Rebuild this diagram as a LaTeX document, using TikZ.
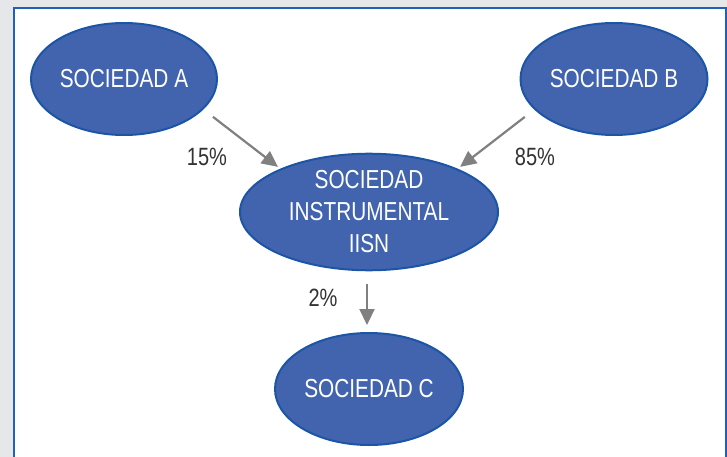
\documentclass[tikz,border=0pt]{standalone}
\usepackage{fontspec}
\setmainfont{Liberation Sans}[FakeStretch=0.8]
\usetikzlibrary{shapes.geometric,arrows.meta}
\definecolor{bgGrey}{HTML}{E6E7E8}
\definecolor{frameBlue}{HTML}{1F5FBE}
\definecolor{ellFill}{HTML}{4264AE}
\definecolor{ellLine}{HTML}{1C55A6}
\definecolor{arrGrey}{HTML}{808080}
\definecolor{txtGrey}{HTML}{333333}
\begin{document}
\begin{tikzpicture}[x=1pt,y=-1pt,
  soc/.style={ellipse,draw=ellLine,line width=2pt,fill=ellFill,text=white,
    inner sep=0pt,font=\fontsize{26}{32}\selectfont,align=center},
  link/.style={draw=arrGrey,line width=2.2pt,-{Triangle[length=16pt,width=15pt]}},
  pct/.style={text=txtGrey,font=\fontsize{25}{28}\selectfont,inner sep=0pt}]
\useasboundingbox (0,0) rectangle (727,457);
\fill[bgGrey] (0,0) rectangle (727,457);
\fill[white] (14,8) rectangle (726,470);
\draw[frameBlue,line width=2.5pt] (14,470) -- (14,8) -- (726,8) -- (726,470);
\node[soc,minimum width=186pt,minimum height=112pt] (A) at (124,79) {SOCIEDAD A};
\node[soc,minimum width=187pt,minimum height=112pt] (B) at (614,79) {SOCIEDAD B};
\node[soc,minimum width=258pt,minimum height=111pt] (M) at (369,212) {SOCIEDAD\\INSTRUMENTAL\\IISN};
\node[soc,minimum width=188pt,minimum height=112pt] (C) at (369,389) {SOCIEDAD C};
\draw[link,shorten <=12pt,shorten >=3pt] (A.-21) -- (M.154);
\draw[link,shorten <=12pt,shorten >=3pt] (B.-159) -- (M.26);
\draw[link,shorten <=13pt,shorten >=7pt] ([xshift=-2pt]M.south) -- ([xshift=-2pt]C.north);
\node[pct] (p15) at (207,157) {15\%};
\node[pct] (p85) at (535,157) {85\%};
\node[pct] (p2) at (323,298) {2\%};
\end{tikzpicture}
\end{document}
